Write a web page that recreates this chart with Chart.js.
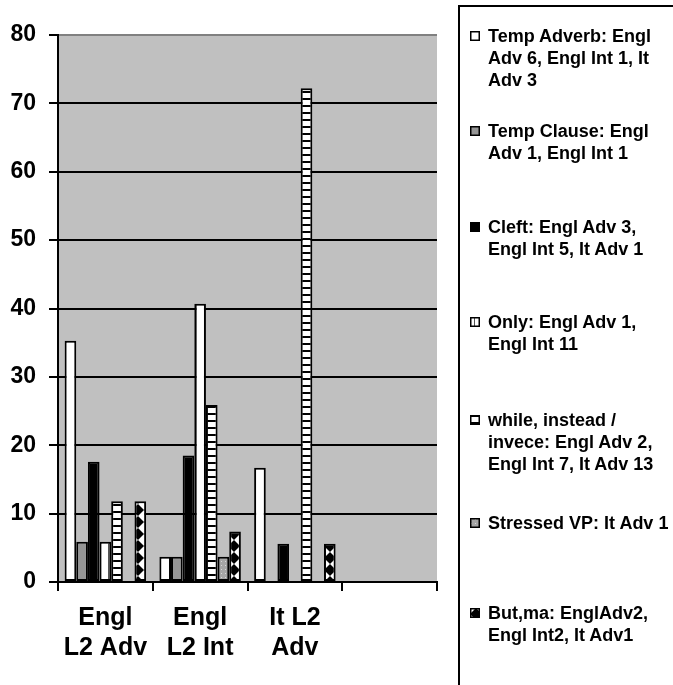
<!DOCTYPE html>
<html>
<head>
<meta charset="utf-8">
<script src="https://cdn.jsdelivr.net/npm/chart.js@4"></script>
<style>
    body { margin: 0; background: #ffffff; }
    #wrap { position: relative; width: 673px; height: 685px; overflow: hidden; }
    #chart { position: absolute; left: 0; top: 0; }
    #legendBox {
        position: absolute; left: 458px; top: 5px; width: 300px; height: 800px;
        border: 2px solid #000000; box-sizing: border-box;
    }
    .item {
        position: absolute; left: 488px; white-space: pre-line;
        font: bold 18px "Liberation Sans", Arial, sans-serif; line-height: 22px; color: #000000;
    }
    .item canvas { position: absolute; left: -18px; top: 6px; }
</style>
</head>
<body>
<div id="wrap">
    <canvas id="chart" width="673" height="685"></canvas>
    <div id="legendBox"></div>
    <div id="legend"></div>
</div>
<script>
// categories (last one is an empty slot, as in the original)
var categories = [["Engl", "L2 Adv"], ["Engl", "L2 Int"], ["It L2", "Adv"], ""];

var seriesLabels = [
    "Temp Adverb: Engl\nAdv 6, Engl Int 1, It\nAdv 3",
    "Temp Clause: Engl\nAdv 1, Engl Int 1",
    "Cleft: Engl Adv 3,\nEngl Int 5, It Adv 1",
    "Only: Engl Adv 1,\nEngl Int 11",
    "while, instead /\ninvece: Engl Adv 2,\nEngl Int 7, It Adv 13",
    "Stressed VP: It Adv 1",
    "But,ma: EnglAdv2,\nEngl Int2, It Adv1"
];

// values in percent, per category
var tempAdverb = [35.3, 3.7, 16.7, null];
var tempClause = [5.9, 3.7, null, null];
var cleft = [17.6, 18.5, 5.6, null];
var only = [5.9, 40.7, null, null];
var whileInstead = [11.8, 25.9, 72.2, null];
var stressedVP = [null, 3.7, null, null];
var butMa = [11.8, 7.4, 5.6, null];

var yTicks = [0, 10, 20, 30, 40, 50, 60, 70, 80];

var legendTops = [25, 120, 216, 311, 409, 512, 602];

function makePattern(w, h, draw) {
    var c = document.createElement("canvas");
    c.width = w;
    c.height = h;
    var g = c.getContext("2d");
    draw(g, w, h);
    return document.createElement("canvas").getContext("2d").createPattern(c, "repeat");
}

var onlyPattern = makePattern(8, 8, function(g, w, h) {
    g.fillStyle = "#ffffff";
    g.fillRect(0, 0, w, h);
    g.fillStyle = "#555555";
    g.fillRect(4, 0, 1, h);
});
var whilePattern = makePattern(8, 7, function(g, w, h) {
    g.fillStyle = "#ffffff";
    g.fillRect(0, 0, w, h);
    g.fillStyle = "#000000";
    g.fillRect(0, 0, w, 2);
});
var dotPattern = makePattern(4, 4, function(g, w, h) {
    g.fillStyle = "#a6a6a6";
    g.fillRect(0, 0, w, h);
    g.fillStyle = "#d8d8d8";
    g.fillRect(1, 1, 1, 1);
});
var diamondPattern = makePattern(12, 12, function(g, w, h) {
    g.fillStyle = "#ffffff";
    g.fillRect(0, 0, w, h);
    g.fillStyle = "#000000";
    g.beginPath();
    g.moveTo(6, 0);
    g.lineTo(12, 6);
    g.lineTo(6, 12);
    g.lineTo(0, 6);
    g.closePath();
    g.fill();
});

var fills = ["#ffffff", "#969696", "#000000", onlyPattern, whilePattern, dotPattern, diamondPattern];
var seriesData = [tempAdverb, tempClause, cleft, only, whileInstead, stressedVP, butMa];

var datasets = seriesData.map(function(values, i) {
    return {
        label: seriesLabels[i],
        data: values,
        backgroundColor: fills[i],
        borderColor: "#000000",
        borderWidth: 2,
        borderSkipped: false,
        categoryPercentage: 0.86,
        barPercentage: 1.0
    };
});

// grey plot area like the original
var plotBackground = {
    id: "plotBackground",
    beforeDraw: function(chart) {
        var a = chart.chartArea;
        var ctx = chart.ctx;
        ctx.save();
        ctx.fillStyle = "#c0c0c0";
        ctx.fillRect(a.left, a.top, a.right - a.left, a.bottom - a.top);
        ctx.restore();
    }
};

new Chart(document.getElementById("chart").getContext("2d"), {
    type: "bar",
    data: { labels: categories, datasets: datasets },
    plugins: [plotBackground],
    options: {
        responsive: false,
        animation: false,
        layout: { padding: { top: 35, right: 236, left: 0, bottom: 0 } },
        plugins: { legend: { display: false }, tooltip: { enabled: false } },
        scales: {
            x: {
                afterFit: function(scale) { scale.height = 103; },
                grid: {
                    offset: true,
                    drawOnChartArea: false,
                    drawTicks: true,
                    tickLength: 9,
                    color: "#000000",
                    lineWidth: 2
                },
                border: { display: true, color: "#000000", width: 2 },
                ticks: {
                    color: "#000000",
                    padding: 12,
                    maxRotation: 0,
                    autoSkip: false,
                    font: { family: "Liberation Sans", size: 25, weight: "bold", lineHeight: 1.2 }
                }
            },
            y: {
                min: 0,
                max: 80,
                afterFit: function(scale) { scale.width = 58; },
                afterBuildTicks: function(scale) {
                    scale.ticks = yTicks.map(function(v) { return { value: v }; });
                },
                grid: {
                    color: function(ctx) { return ctx.tick && ctx.tick.value === 80 ? "#808080" : "#000000"; },
                    tickColor: "#000000",
                    lineWidth: 2,
                    tickLength: 9
                },
                border: { display: true, color: "#000000", width: 2 },
                ticks: {
                    color: "#000000",
                    padding: 13,
                    font: { family: "Liberation Sans", size: 23, weight: "bold" }
                }
            }
        }
    }
});

// legend on the right, one block per series
var legend = document.getElementById("legend");
seriesLabels.forEach(function(text, i) {
    var div = document.createElement("div");
    div.className = "item";
    div.style.top = legendTops[i] + "px";
    div.textContent = text;
    var sw = document.createElement("canvas");
    sw.width = 10;
    sw.height = 10;
    var g = sw.getContext("2d");
    g.fillStyle = fills[i];
    g.fillRect(0, 0, 10, 10);
    g.strokeStyle = "#000000";
    g.lineWidth = 1.5;
    g.strokeRect(0.75, 0.75, 8.5, 8.5);
    div.appendChild(sw);
    legend.appendChild(div);
});
</script>
</body>
</html>
